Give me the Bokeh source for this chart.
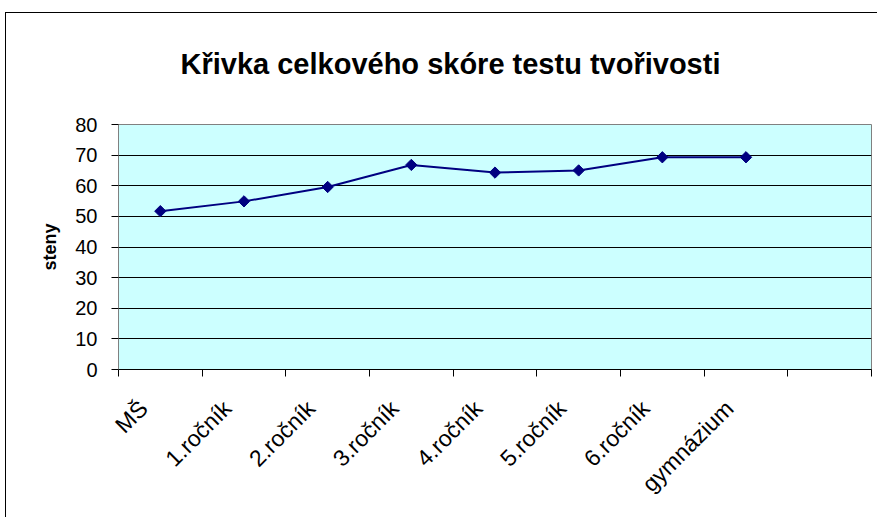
import numpy as np
from bokeh.plotting import figure
from bokeh.models import FixedTicker, Range1d
from bokeh.embed import file_html
from bokeh.resources import INLINE

categories = ["MŠ", "1.ročník", "2.ročník", "3.ročník", "4.ročník", "5.ročník", "6.ročník", "gymnázium"]
scores = [51.7, 54.9, 59.6, 66.8, 64.3, 65.0, 69.3, 69.3]
y_ticks = [0, 10, 20, 30, 40, 50, 60, 70, 80]
n_slots = 9

title_text = "Křivka celkového skóre testu tvořivosti"
y_label = "steny"

xs = [i + 0.5 for i in range(len(categories))]
label_shift = 0.2  # labels sit slightly left of the category centre, as in Excel
label_pos = [x - label_shift for x in xs]

p = figure(width=877, height=517, output_backend="svg", toolbar_location=None,
           x_range=Range1d(0, n_slots), y_range=Range1d(0, 80),
           min_border_left=118, min_border_right=6, min_border_top=124, min_border_bottom=148)
p.background_fill_color = "#CCFFFF"
p.border_fill_color = None
p.outline_line_color = "#808080"
p.outline_line_width = 1
p.styles = {
    "background-color": "white",
    "background-image": "linear-gradient(black, black), linear-gradient(black, black)",
    "background-size": "1px 100%, 100% 1px",
    "background-position": "5px 12px, 5px 12px",
    "background-repeat": "no-repeat",
}

p.title.text = title_text
p.title.align = "left"
p.title.text_font = "Liberation Sans"
p.title.text_font_style = "bold"
p.title.text_font_size = "29px"
p.title.text_color = "black"
p.title.offset = 62
p.title.standoff = 90

# axes
p.xaxis.ticker = FixedTicker(ticks=label_pos, minor_ticks=list(range(n_slots + 1)))
p.xaxis.major_label_overrides = {x: c for x, c in zip(label_pos, categories)}
p.xaxis.major_tick_out = 0
p.xaxis.major_tick_in = 0
p.xaxis.minor_tick_out = 7
p.xaxis.minor_tick_in = 0
p.xaxis.minor_tick_line_color = "black"
p.xaxis.axis_line_color = "black"
p.xaxis.major_label_orientation = np.pi / 4
p.xaxis.major_label_text_font = "Liberation Sans"
p.xaxis.major_label_text_font_size = "23px"
p.xaxis.major_label_text_color = "black"
p.xaxis.major_label_standoff = 28

p.yaxis.ticker = FixedTicker(ticks=y_ticks)
p.yaxis.minor_tick_line_color = None
p.yaxis.major_tick_out = 7
p.yaxis.major_tick_in = 0
p.yaxis.major_tick_line_color = "black"
p.yaxis.axis_line_color = "#808080"
p.yaxis.major_label_text_font = "Liberation Sans"
p.yaxis.major_label_text_font_size = "20px"
p.yaxis.major_label_text_color = "black"
p.yaxis.major_label_standoff = 14
p.yaxis.axis_label = y_label
p.yaxis.axis_label_text_font = "Liberation Sans"
p.yaxis.axis_label_text_font_style = "bold"
p.yaxis.axis_label_text_font_size = "18px"
p.yaxis.axis_label_text_color = "black"
p.yaxis.axis_label_standoff = 12

p.xgrid.grid_line_color = None
p.ygrid.grid_line_color = "black"
p.ygrid.grid_line_width = 1
p.ygrid.ticker = FixedTicker(ticks=y_ticks)

p.line(xs, scores, line_color="#000080", line_width=2)
p.scatter(xs, scores, marker="square", angle=np.pi / 4, size=8,
          fill_color="#000080", line_color="#000080")

open("out.html", "w").write(file_html(p, INLINE))
